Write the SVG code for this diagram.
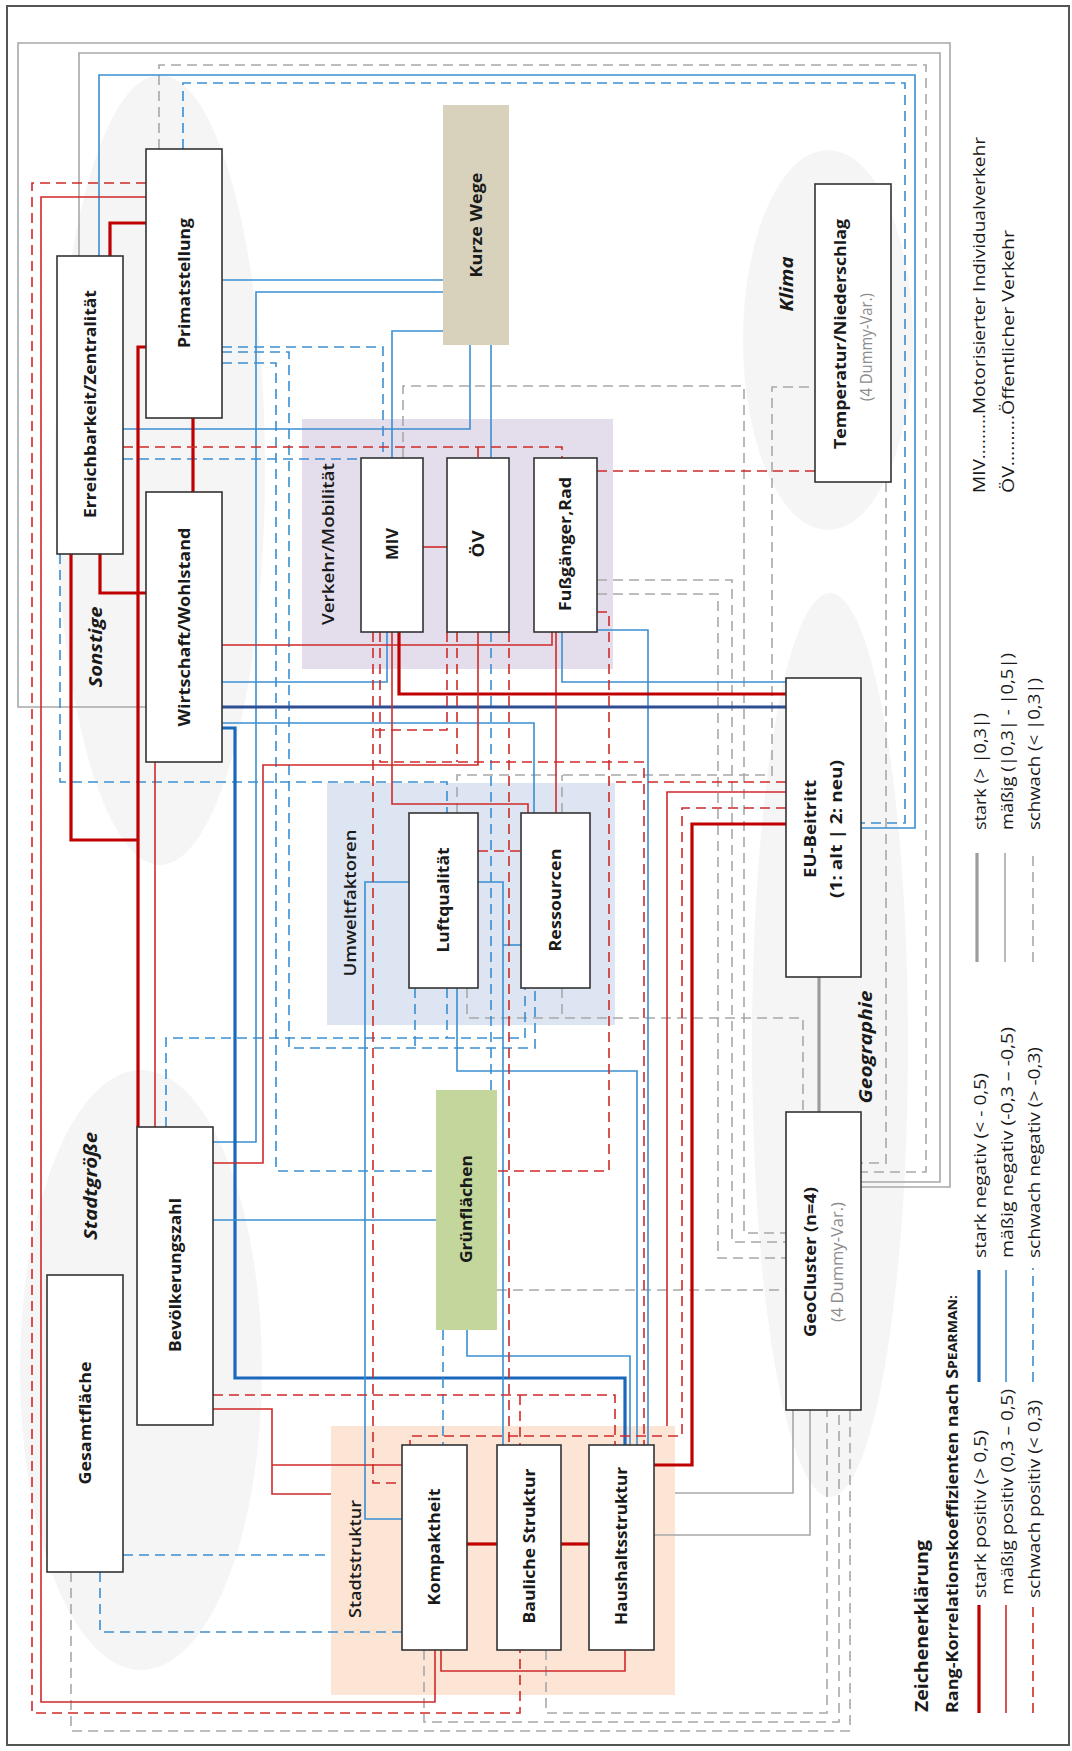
<svg xmlns="http://www.w3.org/2000/svg" width="1072" height="1751" viewBox="0 0 1072 1751">
  <defs>
    <style>
      text { font-family: "Open Sans", "Liberation Sans", sans-serif; fill: #1a1a1a; }
      .nl { font-size: 16px; font-weight: 700; }
      .gl { font-size: 17px; font-weight: 600; }
      .il { font-size: 17px; font-weight: 700; font-style: italic; }
      .sub { font-size: 17px; font-weight: 400; fill: #8c8c8c; }
      .lg { font-size: 16px; font-weight: 400; }
      .lh { font-weight: 700; }
      .box { fill: #ffffff; stroke: #333333; stroke-width: 1.6; }
      .cloud { fill: #f5f5f5; }
      #connectors path, #legend line { fill: none; }
      .rs { stroke: #c00000; stroke-width: 3.2; }
      .rm { stroke: #d02a2a; stroke-width: 1.6; }
      .rw { stroke: #d02a2a; stroke-width: 1.6; stroke-dasharray: 10 6; }
      .bs { stroke: #1a68bd; stroke-width: 3.2; }
      .bm { stroke: #3a8fd2; stroke-width: 1.6; }
      .bw { stroke: #3a8fd2; stroke-width: 1.6; stroke-dasharray: 10 6; }
      .nv { stroke: #2e4e93; stroke-width: 3.2; }
      .gs { stroke: #9c9c9c; stroke-width: 3.2; }
      .gm { stroke: #a8a8a8; stroke-width: 1.6; }
      .gw { stroke: #a8a8a8; stroke-width: 1.6; stroke-dasharray: 10 6; }
    </style>
  </defs>

  <rect width="1072" height="1751" fill="#ffffff"/>
  <rect x="7" y="6" width="1062" height="1739" fill="none" stroke="#555555" stroke-width="2"/>

  <!-- thematic clouds -->
  <g id="clouds">
    <ellipse class="cloud" cx="160" cy="470" rx="105" ry="395"/>
    <ellipse class="cloud" cx="141" cy="1370" rx="121" ry="300"/>
    <ellipse class="cloud" cx="828" cy="340" rx="85" ry="190"/>
    <ellipse class="cloud" cx="830" cy="1045" rx="78" ry="452"/>
  </g>

  <!-- group backgrounds -->
  <g id="group-verkehr"><rect x="302" y="419" width="311" height="250" fill="#e4ddeb"/></g>
  <g id="group-umwelt"><rect x="327" y="783" width="288" height="242" fill="#dce5f1"/></g>
  <g id="group-stadtstruktur"><rect x="331" y="1426" width="344" height="269" fill="#fce5d5"/></g>

  <g id="connectors">
    <!-- grey: correlations with geography / climate -->
    <path class="gm" d="M146,707 H18 V43 H950 V1187 H861"/>
    <path class="gm" d="M79,256 V53 H940 V1182 H861"/>
    <path class="gw" d="M159,149 V65 H926 V1172 H861"/>
    <path class="gw" d="M886,482 V1163 H861"/>
    <path class="gw" d="M403,458 V386 H744 V1233 H786"/>
    <path class="gw" d="M457,813 V775 H772 V387 H815"/>
    <path class="gw" d="M597,580 H732 V1242 H786"/>
    <path class="gw" d="M597,594 H718 V1258 H786"/>
    <path class="gw" d="M467,988 V1018 H803 V1112"/>
    <path class="gw" d="M562,988 V1018"/>
    <path class="gw" d="M562,813 V775"/>
    <path class="gw" d="M497,1290 H786"/>
    <path class="gs" d="M819,977 V1112"/>
    <path class="gm" d="M675,1493 H793 V1410"/>
    <path class="gm" d="M654,1535 H810 V1410"/>
    <path class="gw" d="M546,1650 V1713 H827 V1410"/>
    <path class="gw" d="M424,1650 V1722 H839 V1410"/>
    <path class="gw" d="M71,1572 V1731 H850 V1410"/>

    <!-- blue: negative correlations -->
    <path class="bm" d="M99,256 V75 H915 V828 H861"/>
    <path class="bw" d="M183,149 V83 H905 V823 H861"/>
    <path class="bm" d="M222,280 H443"/>
    <path class="bm" d="M443,292 H256 V1142 H213"/>
    <path class="bm" d="M443,331 H392 V458"/>
    <path class="bm" d="M470,345 V429 H123"/>
    <path class="bm" d="M491,345 V458"/>
    <path class="bw" d="M222,347 H383 V458"/>
    <path class="bw" d="M222,352 H289 V1048 H535 V988"/>
    <path class="bw" d="M222,363 H276 V1171 H436"/>
    <path class="bw" d="M123,459 H361"/>
    <path class="bw" d="M60,554 V782 H447 V813"/>
    <path class="bm" d="M222,682 H387 V632"/>
    <path class="bm" d="M222,723 H534 V813"/>
    <path class="bs" d="M222,728 H235 V1378 H625 V1445"/>
    <path class="bm" d="M562,632 V682 H786"/>
    <path class="bm" d="M597,630 H648 V1445"/>
    <path class="bw" d="M491,632 V1090"/>
    <path class="bm" d="M457,988 V1071 H637 V1445"/>
    <path class="bm" d="M409,882 H365 V1519 H402"/>
    <path class="bm" d="M478,882 H503 V1445"/>
    <path class="bm" d="M521,945 H503"/>
    <path class="bw" d="M166,1127 V1038 H525 V988"/>
    <path class="bw" d="M415,988 V1048"/>
    <path class="bw" d="M447,988 V1038"/>
    <path class="bm" d="M213,1220 H436"/>
    <path class="bm" d="M467,1330 V1356 H630 V1445"/>
    <path class="bw" d="M443,1330 V1445"/>
    <path class="bw" d="M123,1555 H331"/>
    <path class="bw" d="M100,1572 V1632 H402"/>
    <path class="nv" d="M222,707 H786"/>

    <!-- red: positive correlations -->
    <path class="rw" d="M146,183 H32 V1713 H520 V1650"/>
    <path class="rm" d="M146,197 H41 V1702 H435 V1650"/>
    <path class="rs" d="M146,223 H110 V256"/>
    <path class="rs" d="M146,347 H138 V1127"/>
    <path class="rs" d="M100,554 V593 H146"/>
    <path class="rs" d="M71,554 V840 H138"/>
    <path class="rs" d="M193,418 V492"/>
    <path class="rm" d="M155,762 V1127"/>
    <path class="rw" d="M123,447 H562 V458"/>
    <path class="rw" d="M478,447 V458"/>
    <path class="rm" d="M423,547 H447"/>
    <path class="rm" d="M222,645 H552 V632"/>
    <path class="rm" d="M556,632 V813"/>
    <path class="rs" d="M399,632 V694 H786"/>
    <path class="rm" d="M392,632 V804 H528 V813"/>
    <path class="rw" d="M373,632 V1483 H402"/>
    <path class="rw" d="M447,632 V730 H373"/>
    <path class="rw" d="M380,632 V762 H644 V1445"/>
    <path class="rw" d="M457,632 V762"/>
    <path class="rm" d="M478,632 V765 H263 V1163 H213"/>
    <path class="rw" d="M509,632 V1445"/>
    <path class="rw" d="M597,471 H815"/>
    <path class="rw" d="M597,612 H609 V1171 H497"/>
    <path class="rw" d="M786,782 H609"/>
    <path class="rm" d="M786,792 H667 V1426"/>
    <path class="rw" d="M786,808 H682 V1436 H410 V1445"/>
    <path class="rs" d="M786,824 H692 V1465 H654"/>
    <path class="rw" d="M478,851 H521"/>
    <path class="rw" d="M213,1395 H615 V1445"/>
    <path class="rw" d="M520,1395 V1445"/>
    <path class="rm" d="M213,1409 H272 V1494 H331"/>
    <path class="rm" d="M272,1465 H402"/>
    <path class="rs" d="M467,1544 H497"/>
    <path class="rs" d="M561,1544 H589"/>
    <path class="rm" d="M441,1650 V1671 H625 V1650"/>
  </g>

  <!-- group labels -->
  <g id="labels">
    <text class="gl" transform="translate(327,544) rotate(-90)" text-anchor="middle" dominant-baseline="central" textLength="162" lengthAdjust="spacingAndGlyphs">Verkehr/Mobilität</text>
    <text class="gl" transform="translate(349,903) rotate(-90)" text-anchor="middle" dominant-baseline="central" textLength="147" lengthAdjust="spacingAndGlyphs">Umweltfaktoren</text>
    <text class="gl" transform="translate(354,1559) rotate(-90)" text-anchor="middle" dominant-baseline="central" textLength="118" lengthAdjust="spacingAndGlyphs">Stadtstruktur</text>
    <text class="il" transform="translate(95,647) rotate(-90)" text-anchor="middle" dominant-baseline="central" textLength="81" lengthAdjust="spacingAndGlyphs">Sonstige</text>
    <text class="il" transform="translate(90,1186) rotate(-90)" text-anchor="middle" dominant-baseline="central" textLength="108" lengthAdjust="spacingAndGlyphs">Stadtgröße</text>
    <text class="il" transform="translate(786,284) rotate(-90)" text-anchor="middle" dominant-baseline="central" textLength="55" lengthAdjust="spacingAndGlyphs">Klima</text>
    <text class="il" transform="translate(865,1047) rotate(-90)" text-anchor="middle" dominant-baseline="central" textLength="113" lengthAdjust="spacingAndGlyphs">Geographie</text>
  </g>

  <!-- variable nodes -->
  <g id="n-primatstellung">
    <rect class="box" x="146" y="149" width="76" height="269"/>
    <text class="nl" transform="translate(184,283) rotate(-90)" text-anchor="middle" dominant-baseline="central" textLength="130" lengthAdjust="spacingAndGlyphs">Primatstellung</text>
  </g>
  <g id="n-erreichbarkeit">
    <rect class="box" x="57" y="256" width="66" height="298"/>
    <text class="nl" transform="translate(90,404) rotate(-90)" text-anchor="middle" dominant-baseline="central" textLength="228" lengthAdjust="spacingAndGlyphs">Erreichbarkeit/Zentralität</text>
  </g>
  <g id="n-kurze-wege">
    <rect x="443" y="105" width="66" height="240" fill="#d8d2bd"/>
    <text class="nl" transform="translate(476,225) rotate(-90)" text-anchor="middle" dominant-baseline="central" textLength="105" lengthAdjust="spacingAndGlyphs">Kurze Wege</text>
  </g>
  <g id="n-wirtschaft">
    <rect class="box" x="146" y="492" width="76" height="270"/>
    <text class="nl" transform="translate(184,627) rotate(-90)" text-anchor="middle" dominant-baseline="central" textLength="199" lengthAdjust="spacingAndGlyphs">Wirtschaft/Wohlstand</text>
  </g>
  <g id="n-miv">
    <rect class="box" x="361" y="458" width="62" height="174"/>
    <text class="nl" transform="translate(392,544) rotate(-90)" text-anchor="middle" dominant-baseline="central" textLength="32" lengthAdjust="spacingAndGlyphs">MIV</text>
  </g>
  <g id="n-oev">
    <rect class="box" x="447" y="458" width="62" height="174"/>
    <text class="nl" transform="translate(478,544) rotate(-90)" text-anchor="middle" dominant-baseline="central" textLength="27" lengthAdjust="spacingAndGlyphs">ÖV</text>
  </g>
  <g id="n-fuss">
    <rect class="box" x="534" y="458" width="63" height="174"/>
    <text class="nl" transform="translate(565,544) rotate(-90)" text-anchor="middle" dominant-baseline="central" textLength="134" lengthAdjust="spacingAndGlyphs">Fußgänger,Rad</text>
  </g>
  <g id="n-temperatur">
    <rect class="box" x="815" y="184" width="76" height="298"/>
    <text class="nl" transform="translate(840,334) rotate(-90)" text-anchor="middle" dominant-baseline="central" textLength="230" lengthAdjust="spacingAndGlyphs">Temperatur/Niederschlag</text>
    <text class="sub" transform="translate(865,347) rotate(-90)" text-anchor="middle" dominant-baseline="central" textLength="108" lengthAdjust="spacingAndGlyphs">(4 Dummy-Var.)</text>
  </g>
  <g id="n-eu">
    <rect class="box" x="786" y="678" width="75" height="299"/>
    <text class="nl" transform="translate(810,829) rotate(-90)" text-anchor="middle" dominant-baseline="central" textLength="98" lengthAdjust="spacingAndGlyphs">EU-Beitritt</text>
    <text class="nl" transform="translate(836,829) rotate(-90)" text-anchor="middle" dominant-baseline="central" textLength="138" lengthAdjust="spacingAndGlyphs">(1: alt | 2: neu)</text>
  </g>
  <g id="n-geocluster">
    <rect class="box" x="786" y="1112" width="75" height="298"/>
    <text class="nl" transform="translate(810,1262) rotate(-90)" text-anchor="middle" dominant-baseline="central" textLength="150" lengthAdjust="spacingAndGlyphs">GeoCluster (n=4)</text>
    <text class="sub" transform="translate(836,1262) rotate(-90)" text-anchor="middle" dominant-baseline="central" textLength="120" lengthAdjust="spacingAndGlyphs">(4 Dummy-Var.)</text>
  </g>
  <g id="n-luft">
    <rect class="box" x="409" y="813" width="69" height="175"/>
    <text class="nl" transform="translate(443,900) rotate(-90)" text-anchor="middle" dominant-baseline="central" textLength="105" lengthAdjust="spacingAndGlyphs">Luftqualität</text>
  </g>
  <g id="n-ressourcen">
    <rect class="box" x="521" y="813" width="69" height="175"/>
    <text class="nl" transform="translate(555,900) rotate(-90)" text-anchor="middle" dominant-baseline="central" textLength="103" lengthAdjust="spacingAndGlyphs">Ressourcen</text>
  </g>
  <g id="n-gruen">
    <rect x="436" y="1090" width="61" height="240" fill="#c3d69b"/>
    <text class="nl" transform="translate(466,1209) rotate(-90)" text-anchor="middle" dominant-baseline="central" textLength="108" lengthAdjust="spacingAndGlyphs">Grünflächen</text>
  </g>
  <g id="n-bevoelkerung">
    <rect class="box" x="137" y="1127" width="76" height="298"/>
    <text class="nl" transform="translate(175,1275) rotate(-90)" text-anchor="middle" dominant-baseline="central" textLength="154" lengthAdjust="spacingAndGlyphs">Bevölkerungszahl</text>
  </g>
  <g id="n-gesamtflaeche">
    <rect class="box" x="47" y="1275" width="76" height="297"/>
    <text class="nl" transform="translate(85,1423) rotate(-90)" text-anchor="middle" dominant-baseline="central" textLength="123" lengthAdjust="spacingAndGlyphs">Gesamtfläche</text>
  </g>
  <g id="n-kompaktheit">
    <rect class="box" x="402" y="1445" width="65" height="205"/>
    <text class="nl" transform="translate(434,1547) rotate(-90)" text-anchor="middle" dominant-baseline="central" textLength="117" lengthAdjust="spacingAndGlyphs">Kompaktheit</text>
  </g>
  <g id="n-bauliche">
    <rect class="box" x="497" y="1445" width="64" height="205"/>
    <text class="nl" transform="translate(529,1546) rotate(-90)" text-anchor="middle" dominant-baseline="central" textLength="155" lengthAdjust="spacingAndGlyphs">Bauliche Struktur</text>
  </g>
  <g id="n-haushalt">
    <rect class="box" x="589" y="1445" width="65" height="205"/>
    <text class="nl" transform="translate(621,1546) rotate(-90)" text-anchor="middle" dominant-baseline="central" textLength="158" lengthAdjust="spacingAndGlyphs">Haushaltsstruktur</text>
  </g>

  <!-- legend -->
  <g id="legend">
    <text class="lg" transform="translate(979,493) rotate(-90)" dominant-baseline="central" textLength="356" lengthAdjust="spacingAndGlyphs">MIV.........Motorisierter Individualverkehr</text>
    <text class="lg" transform="translate(1008,493) rotate(-90)" dominant-baseline="central" textLength="263" lengthAdjust="spacingAndGlyphs">ÖV..........Öffentlicher Verkehr</text>

    <text class="lh" font-size="18" transform="translate(921,1712) rotate(-90)" dominant-baseline="central" textLength="172" lengthAdjust="spacingAndGlyphs">Zeichenerklärung</text>
    <text class="lh" font-size="16" transform="translate(952,1713) rotate(-90)" dominant-baseline="central" textLength="418" lengthAdjust="spacingAndGlyphs">Rang-Korrelationskoeffizienten nach S<tspan font-size="12.5">PEARMAN:</tspan></text>

    <line class="rs" x1="979" y1="1713" x2="979" y2="1605"/>
    <line class="rm" x1="1006" y1="1713" x2="1006" y2="1605"/>
    <line class="rw" x1="1033" y1="1713" x2="1033" y2="1607"/>
    <text class="lg" transform="translate(980,1598) rotate(-90)" dominant-baseline="central" textLength="168" lengthAdjust="spacingAndGlyphs">stark positiv (&gt; 0,5)</text>
    <text class="lg" transform="translate(1007,1595) rotate(-90)" dominant-baseline="central" textLength="206" lengthAdjust="spacingAndGlyphs">mäßig positiv (0,3 – 0,5)</text>
    <text class="lg" transform="translate(1034,1598) rotate(-90)" dominant-baseline="central" textLength="198" lengthAdjust="spacingAndGlyphs">schwach positiv (&lt; 0,3)</text>

    <line class="bs" x1="979" y1="1382" x2="979" y2="1270"/>
    <line class="bm" x1="1006" y1="1382" x2="1006" y2="1270"/>
    <line class="bw" x1="1033" y1="1382" x2="1033" y2="1268"/>
    <text class="lg" transform="translate(980,1258) rotate(-90)" dominant-baseline="central" textLength="185" lengthAdjust="spacingAndGlyphs">stark negativ (&lt; - 0,5)</text>
    <text class="lg" transform="translate(1007,1258) rotate(-90)" dominant-baseline="central" textLength="231" lengthAdjust="spacingAndGlyphs">mäßig negativ (-0,3 – -0,5)</text>
    <text class="lg" transform="translate(1034,1258) rotate(-90)" dominant-baseline="central" textLength="211" lengthAdjust="spacingAndGlyphs">schwach negativ (&gt; -0,3)</text>

    <line class="gs" x1="977" y1="962" x2="977" y2="853"/>
    <line class="gm" x1="1005" y1="962" x2="1005" y2="853"/>
    <line class="gw" x1="1033" y1="962" x2="1033" y2="851"/>
    <text class="lg" transform="translate(980,830) rotate(-90)" dominant-baseline="central" textLength="117" lengthAdjust="spacingAndGlyphs">stark (&gt; |0,3|)</text>
    <text class="lg" transform="translate(1007,830) rotate(-90)" dominant-baseline="central" textLength="177" lengthAdjust="spacingAndGlyphs">mäßig (|0,3| - |0,5|)</text>
    <text class="lg" transform="translate(1034,830) rotate(-90)" dominant-baseline="central" textLength="152" lengthAdjust="spacingAndGlyphs">schwach (&lt; |0,3|)</text>
  </g>
</svg>
